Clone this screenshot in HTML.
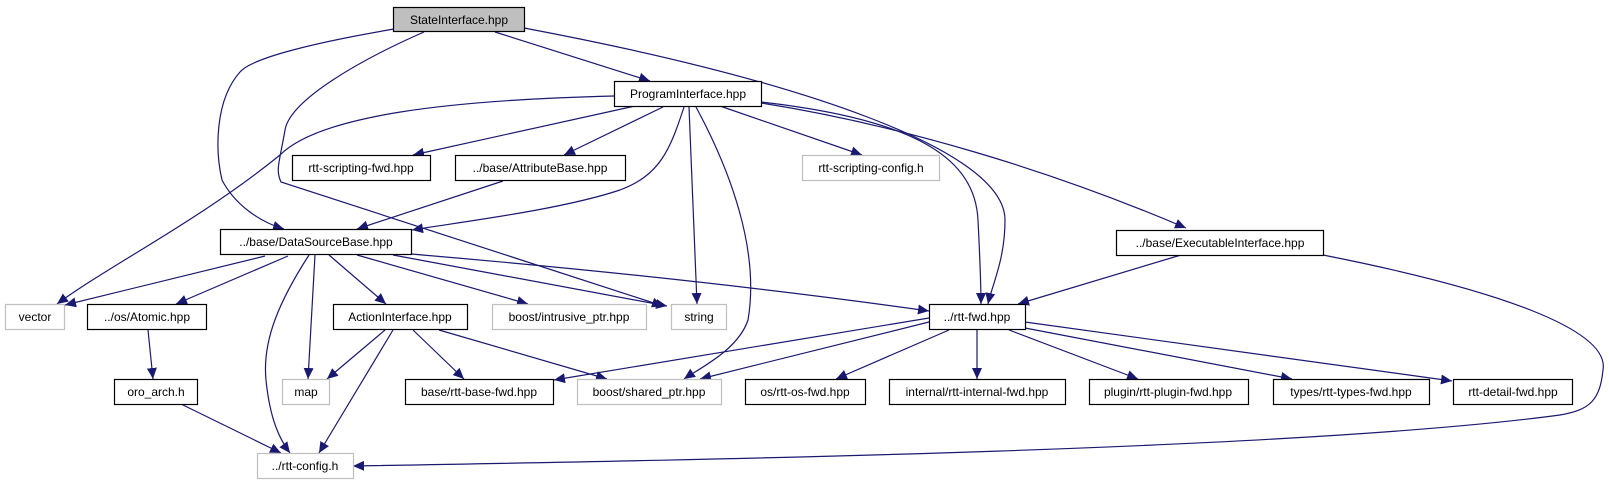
<!DOCTYPE html>
<html><head><meta charset="utf-8"><style>
html,body{margin:0;padding:0;background:#fff;}
svg{display:block;}
text{font-family:"Liberation Sans",sans-serif;font-size:12px;fill:#000;}
</style></head><body>
<svg width="1609" height="485" viewBox="0 0 1609 485" xmlns="http://www.w3.org/2000/svg">
<defs>
<marker id="a" markerUnits="userSpaceOnUse" markerWidth="12" markerHeight="10" refX="11" refY="5" orient="auto">
<path d="M0,0 L11,5 L0,10 Z" fill="#191970"/>
</marker>
</defs>
<g fill="none" stroke="#191970" stroke-width="1.2" marker-end="url(#a)">
<path d="M394,29 C300,45 250,60 240,72 C215,100 215,150 222,180 C235,205 260,222 284,229"/>
<path d="M424,32 C360,60 290,100 285,130 C280,160 275,170 281,182 L663,306"/>
<path d="M495,32 L650,81"/>
<path d="M524,28 C800,80 1005,150 1005,220 C1005,260 992,285 988,304"/>
<path d="M614,96 C450,100 320,115 280,155 C200,220 110,265 57,304"/>
<path d="M635,106 L413,155"/>
<path d="M663,107 L564,155"/>
<path d="M684,107 C670,150 660,175 620,190 C560,210 460,222 412,230"/>
<path d="M689,107 L697,304"/>
<path d="M696,107 C730,170 760,250 748,320 C738,350 700,368 684,379"/>
<path d="M720,106 L862,155"/>
<path d="M761,103 C900,125 1050,170 1186,228"/>
<path d="M761,102 C920,120 975,160 978,220 C980,260 981,285 981,304"/>
<path d="M503,181 L357,229"/>
<path d="M265,256 L65,305"/>
<path d="M288,256 L176,304"/>
<path d="M309,255 C280,300 262,340 266,380 C270,420 280,440 290,453"/>
<path d="M315,255 L308,379"/>
<path d="M329,255 L386,304"/>
<path d="M357,255 L528,304"/>
<path d="M393,255 L667,306"/>
<path d="M411,254 C600,270 780,290 929,311"/>
<path d="M148,330 L153,379"/>
<path d="M181,404 L281,453"/>
<path d="M385,330 L327,379"/>
<path d="M393,330 L319,453"/>
<path d="M413,330 L464,379"/>
<path d="M439,330 L607,379"/>
<path d="M1181,255 L1018,304"/>
<path d="M1323,255 C1500,290 1610,330 1603,370 C1600,400 1590,410 1560,415 C1300,450 700,460 353,466"/>
<path d="M929,318 L554,380"/>
<path d="M929,322 L700,379"/>
<path d="M949,330 L836,379"/>
<path d="M977,330 L977,379"/>
<path d="M1009,330 L1138,379"/>
<path d="M1025,328 L1292,379"/>
<path d="M1025,322 L1452,381"/>
</g>
<g stroke-width="1.2">
<rect x="393.5" y="7.5" width="131" height="24" fill="#bfbfbf" stroke="#000"/>
<rect x="614.5" y="81.5" width="147" height="25" fill="#fff" stroke="#000"/>
<rect x="292.5" y="155.5" width="138" height="25" fill="#fff" stroke="#000"/>
<rect x="455.5" y="155.5" width="170" height="25" fill="#fff" stroke="#000"/>
<rect x="802.5" y="155.5" width="137" height="25" fill="#fff" stroke="#bfbfbf"/>
<rect x="220.5" y="229.5" width="191" height="25" fill="#fff" stroke="#000"/>
<rect x="1116.5" y="230.5" width="207" height="25" fill="#fff" stroke="#000"/>
<rect x="929.5" y="304.5" width="96" height="25" fill="#fff" stroke="#000"/>
<rect x="5.5" y="304.5" width="59" height="25" fill="#fff" stroke="#bfbfbf"/>
<rect x="87.5" y="304.5" width="119" height="25" fill="#fff" stroke="#000"/>
<rect x="333.5" y="304.5" width="134" height="25" fill="#fff" stroke="#000"/>
<rect x="492.5" y="304.5" width="154" height="25" fill="#fff" stroke="#bfbfbf"/>
<rect x="671.5" y="304.5" width="55" height="25" fill="#fff" stroke="#bfbfbf"/>
<rect x="114.5" y="379.5" width="83" height="25" fill="#fff" stroke="#000"/>
<rect x="282.5" y="379.5" width="47" height="25" fill="#fff" stroke="#bfbfbf"/>
<rect x="405.5" y="379.5" width="148" height="25" fill="#fff" stroke="#000"/>
<rect x="577.5" y="379.5" width="144" height="25" fill="#fff" stroke="#bfbfbf"/>
<rect x="745.5" y="379.5" width="120" height="25" fill="#fff" stroke="#000"/>
<rect x="889.5" y="379.5" width="176" height="25" fill="#fff" stroke="#000"/>
<rect x="1089.5" y="379.5" width="159" height="25" fill="#fff" stroke="#000"/>
<rect x="1273.5" y="379.5" width="156" height="25" fill="#fff" stroke="#000"/>
<rect x="1453.5" y="379.5" width="119" height="25" fill="#fff" stroke="#000"/>
<rect x="257.5" y="453.5" width="96" height="25" fill="#fff" stroke="#bfbfbf"/>
</g>
<g text-anchor="middle">
<text x="459" y="24">StateInterface.hpp</text>
<text x="688" y="98">ProgramInterface.hpp</text>
<text x="361" y="172">rtt-scripting-fwd.hpp</text>
<text x="540" y="172">../base/AttributeBase.hpp</text>
<text x="871" y="172">rtt-scripting-config.h</text>
<text x="316" y="246">../base/DataSourceBase.hpp</text>
<text x="1220" y="247">../base/ExecutableInterface.hpp</text>
<text x="977" y="321">../rtt-fwd.hpp</text>
<text x="35" y="321">vector</text>
<text x="147" y="321">../os/Atomic.hpp</text>
<text x="400" y="321">ActionInterface.hpp</text>
<text x="569" y="321">boost/intrusive_ptr.hpp</text>
<text x="699" y="321">string</text>
<text x="156" y="396">oro_arch.h</text>
<text x="306" y="396">map</text>
<text x="479" y="396">base/rtt-base-fwd.hpp</text>
<text x="649" y="396">boost/shared_ptr.hpp</text>
<text x="805" y="396">os/rtt-os-fwd.hpp</text>
<text x="977" y="396">internal/rtt-internal-fwd.hpp</text>
<text x="1168" y="396">plugin/rtt-plugin-fwd.hpp</text>
<text x="1351" y="396">types/rtt-types-fwd.hpp</text>
<text x="1513" y="396">rtt-detail-fwd.hpp</text>
<text x="305" y="470">../rtt-config.h</text>
</g>
</svg>
</body></html>
